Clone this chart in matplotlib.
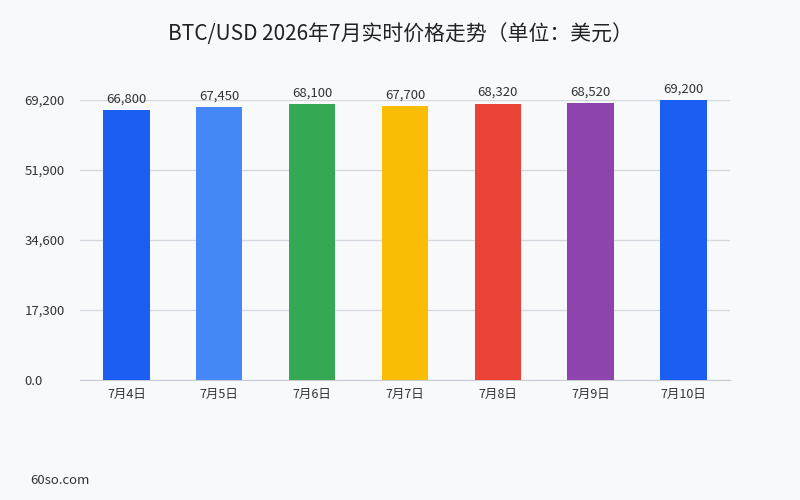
import matplotlib
matplotlib.use("Agg")
import matplotlib.pyplot as plt
from matplotlib.ticker import FixedLocator

plt.rcParams['font.family'] = ['Noto Sans CJK SC', 'DejaVu Sans']

dates = ['7月4日', '7月5日', '7月6日', '7月7日', '7月8日', '7月9日', '7月10日']
prices = [66800, 67450, 68100, 67700, 68320, 68520, 69200]
colors = ['#1b5ff2', '#4487f5', '#34a853', '#fbbc05', '#ea4335', '#8e44ad', '#1b5ff2']
yticks = [0, 17300, 34600, 51900, 69200]
ytick_labels = ['0.0', '17,300', '34,600', '51,900', '69,200']

bg = '#f8f9fb'
fig = plt.figure(figsize=(8, 5), dpi=100, facecolor=bg)
ax = fig.add_axes([0.1, 0.24, 0.8125, 0.56], facecolor=bg)

x = range(len(dates))
ax.bar(x, prices, width=0.5, color=colors, zorder=3)
for xi, v in zip(x, prices):
    ax.text(xi, v + 1100, f'{v:,}', ha='center', va='bottom', fontsize=9.5, color='#333333')

ax.set_xlim(-0.5, len(dates) - 0.5)
ax.set_ylim(0, 69200)
ax.yaxis.set_major_locator(FixedLocator(yticks))
ax.set_yticklabels(ytick_labels)
ax.set_xticks(list(x))
ax.set_xticklabels(dates)
ax.grid(axis='y', color='#d3d7de', linewidth=0.9, zorder=0)
ax.tick_params(axis='both', length=0, colors='#333333')
ax.tick_params(axis='y', labelsize=9.5, pad=40)
ax.tick_params(axis='x', labelsize=9, pad=6)
for lbl in ax.get_yticklabels():
    lbl.set_horizontalalignment('left')
for s in ['top', 'right', 'left']:
    ax.spines[s].set_visible(False)
ax.spines['bottom'].set_color('#c8ccd4')

fig.text(0.5, 0.932, 'BTC/USD 2026年7月实时价格走势（单位：美元）', ha='center', va='center',
         fontsize=15, color='#222222')
fig.text(0.0375, 0.04, '60so.com', ha='left', va='center', fontsize=9.5, color='#333333')

fig.savefig('out.png', dpi=100, facecolor=bg)
